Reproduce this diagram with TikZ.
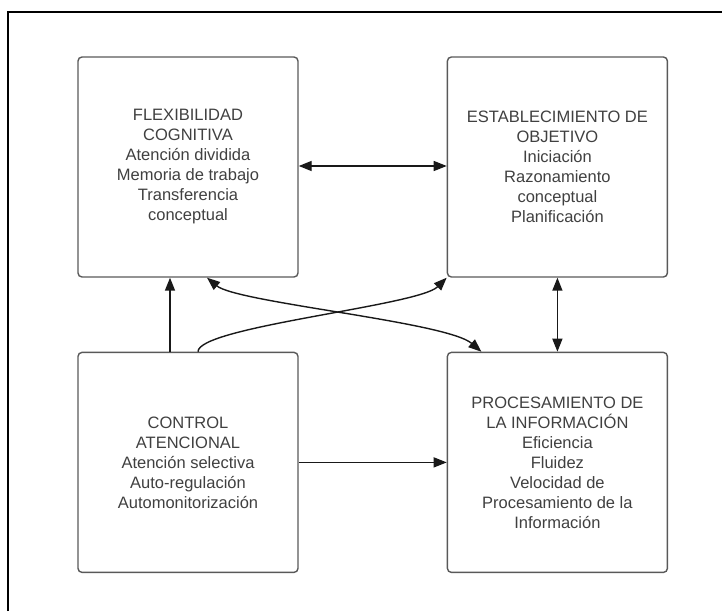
\documentclass[tikz,border=0pt]{standalone}
\usepackage{fontspec}
\setmainfont{Liberation Sans}
\usepackage{tikz}
\usetikzlibrary{arrows.meta, positioning}

\begin{document}
\begin{tikzpicture}[x=1pt, y=1pt,
bloque/.style={rectangle, rounded corners=4pt, draw=black!65, line width=1.4pt,
minimum width=220pt, minimum height=220pt, align=center, inner sep=2pt,
text=black!75, font=\fontsize{16.5}{20}\selectfont},
%
flecha/.style={draw=black!90, >={Triangle[length=13pt, width=10pt]}}]

\tikzset{every path/.style={line width=1.4pt}}

\useasboundingbox (0,0) rectangle (722,611);
\draw [line width=1.2pt] (8,0) -- (8,599) -- (722,599);

\begin{scope}
  %%%%%%%%%%%%%%%%%%%%%%%%%%%%%%
  \node [bloque] (flex) at (188,444) {FLEXIBILIDAD\\COGNITIVA\\Atención dividida\\
    Memoria de trabajo\\Transferencia\\conceptual};
  \node [bloque, right=148pt of flex] (objetivo) {ESTABLECIMIENTO DE\\OBJETIVO\\
    Iniciación\\Razonamiento\\conceptual\\Planificación};
  %%%%%%%%%%%%%%%%%%%%%%%%%%%%%%
  \node [bloque, below=74pt of flex] (control) {CONTROL\\ATENCIONAL\\
    Atención selectiva\\Auto-regulación\\Automonitorización};
  \node [bloque, below=74pt of objetivo] (proces) {PROCESAMIENTO DE\\
    LA INFORMACIÓN\\Eficiencia\\Fluidez\\Velocidad de\\
    Procesamiento de la\\Información};
\end{scope}

\begin{scope}
  \draw [flecha, <->] ([yshift=1pt]flex.east) -- ([yshift=1pt]objetivo.west);
  \draw [flecha, ->] ([xshift=-18pt]control.north) -- ([xshift=-18pt]flex.south);
  \draw [flecha, ->] ([xshift=10pt]control.north) .. controls +(90:25) and +(-135:40) .. (objetivo.south west);
  \draw [flecha, <->] ([xshift=19pt]flex.south) .. controls +(30,-25) and +(-35,30) .. ([xshift=-76pt]proces.north);
  %%%%%%%%%%%%%%%%%%%%%%%%%%%%%%
  \draw [flecha, <->] (objetivo.south) -- (proces.north);
  \draw [flecha, ->] (control.east) -- (proces.west);
\end{scope}

\end{tikzpicture}
\end{document}
